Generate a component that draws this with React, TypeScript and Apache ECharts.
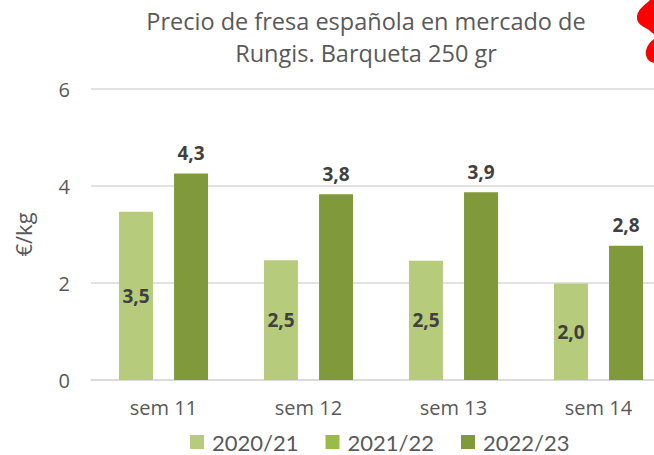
import React, { useEffect, useRef } from "react";
import * as echarts from "echarts";

const categories = ["sem 11", "sem 12", "sem 13", "sem 14"];
const seriesNames = ["2020/21", "2021/22", "2022/23"];
const values2020: number[] = [3.47, 2.47, 2.46, 1.99];
const values2021: number[] = [];
const values2022: number[] = [4.26, 3.83, 3.87, 2.77];
const yTicks = { min: 0, max: 6, interval: 2 };
const titleText = "Precio de fresa española en mercado de\nRungis. Barqueta 250 gr";
const yAxisName = "€/kg";

const FONT = "Open Sans";
const LEGEND_FONT = "Lato";
const GRAY = "#595959";
const LABEL = "#404040";
const LIGHT = "#b6cb7b";
const MID = "#9bbb48";
const DARK = "#80993a";

const blobPath =
  "M654 0 L650 0 C645 5 636 10 637 19 C638 26 648 28 651 32 L654 34 Z M654 39 C648 43 645 50 646 55 C647 60 650 62 654 63 Z";

export default function App() {
  const ref = useRef<HTMLDivElement>(null);
  useEffect(() => {
    document.body.style.margin = "0";
    echarts.graphic.registerShape("blob", echarts.graphic.extendPath(blobPath, {}));
    const chart = echarts.init(ref.current!, null, { renderer: "svg" });
    const fmt = (p: any) => Number(p.value).toFixed(1).replace(".", ",");
    chart.setOption({
      animation: false,
      textStyle: { fontFamily: FONT },
      title: {
        text: titleText,
        left: 361,
        textAlign: "center",
        top: 0,
        textStyle: { fontFamily: FONT, fontSize: 23.5, fontWeight: "normal", color: GRAY, lineHeight: 32 },
      },
      graphic: [{ type: "blob", x: 0, y: 0, style: { fill: "#ff0000" } }],
      grid: { left: 91, width: 580, top: 89, bottom: 75, containLabel: false, outerBoundsMode: "none" },
      legend: {
        data: seriesNames.map((n) => ({ name: n, icon: "rect" })),
        left: 190,
        top: 431,
        padding: 0,
        itemWidth: 14,
        itemHeight: 14,
        itemGap: 27,
        textStyle: { fontFamily: LEGEND_FONT, fontSize: 22, lineHeight: 20, color: GRAY, padding: [0, 0, 0, 3] },
      },
      xAxis: {
        type: "category",
        data: categories,
        axisTick: { show: false },
        axisLine: { lineStyle: { color: "#d9d9d9", width: 1.5 } },
        axisLabel: { fontFamily: FONT, fontSize: 20, color: GRAY, margin: 17 },
      },
      yAxis: {
        type: "value",
        min: yTicks.min,
        max: yTicks.max,
        interval: yTicks.interval,
        name: yAxisName,
        nameLocation: "middle",
        nameGap: 57,
        nameTextStyle: { fontFamily: FONT, fontSize: 22, color: GRAY },
        axisLabel: { fontFamily: FONT, fontSize: 20, color: GRAY, margin: 21 },
        splitLine: { lineStyle: { color: "#d9d9d9", width: 1.5 } },
        axisLine: { show: false },
        axisTick: { show: false },
      },
      series: [
        {
          name: seriesNames[0],
          type: "bar",
          data: values2020,
          barWidth: 34,
          barGap: "62%",
          itemStyle: { color: LIGHT },
          label: { show: true, position: "inside", formatter: fmt, fontFamily: FONT, fontSize: 19, fontWeight: "bold", color: LABEL },
        },
        {
          name: seriesNames[1],
          type: "line",
          data: values2021,
          itemStyle: { color: MID },
        },
        {
          name: seriesNames[2],
          type: "bar",
          data: values2022,
          barWidth: 34,
          barGap: "62%",
          itemStyle: { color: DARK },
          label: { show: true, position: "top", distance: 11, formatter: fmt, fontFamily: FONT, fontSize: 19, fontWeight: "bold", color: LABEL },
        },
      ],
    });
    return () => chart.dispose();
  }, []);
  return <div ref={ref} style={{ width: 654, height: 455, position: "absolute", left: 0, top: 0 }} />;
}
